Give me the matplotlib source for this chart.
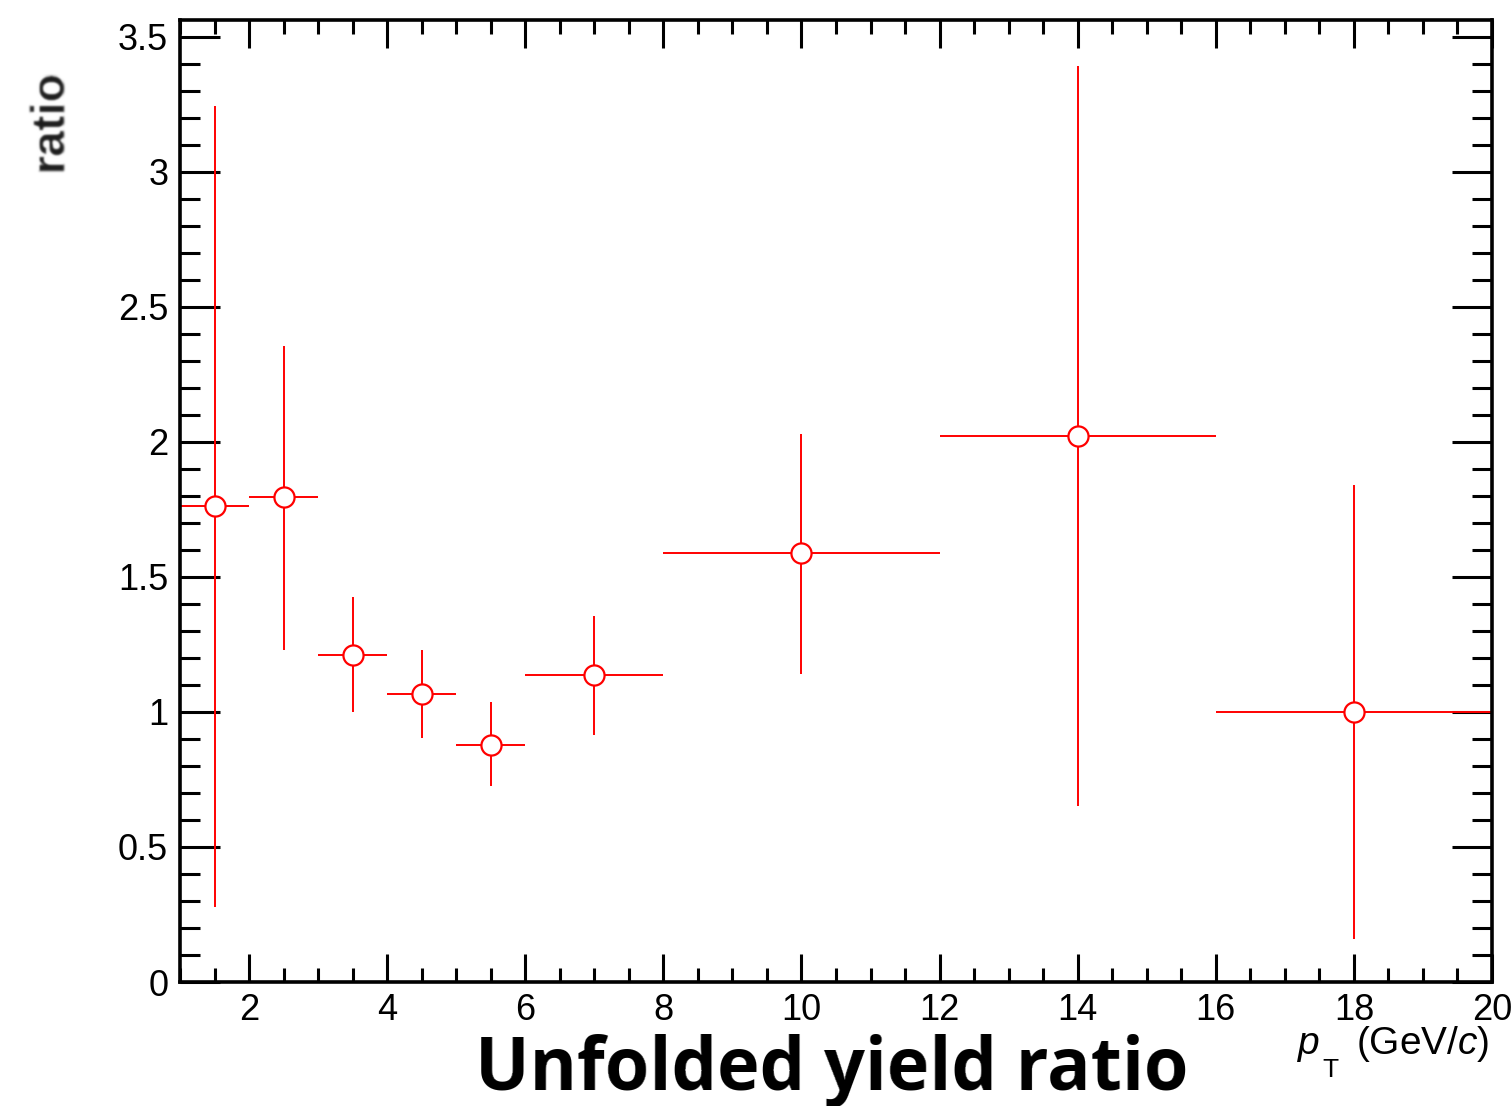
import numpy as np
import matplotlib
matplotlib.use("Agg")
import matplotlib.pyplot as plt
from matplotlib.ticker import MultipleLocator

# pT bins (GeV/c) and unfolded yield ratio with its uncertainties
bin_low = [1, 2, 3, 4, 5, 6, 8, 12, 16]
bin_high = [2, 3, 4, 5, 6, 8, 12, 16, 20]
ratio = [1.762, 1.795, 1.209, 1.068, 0.879, 1.135, 1.588, 2.021, 1.001]
err_up = [3.245, 2.355, 1.424, 1.228, 1.035, 1.354, 2.029, 3.390, 1.840]
err_down = [0.278, 1.228, 0.998, 0.905, 0.727, 0.916, 1.142, 0.653, 0.159]

x_ticks = [2, 4, 6, 8, 10, 12, 14, 16, 18, 20]
y_ticks = [0, 0.5, 1, 1.5, 2, 2.5, 3, 3.5]
y_tick_labels = ["0", "0.5", "1", "1.5", "2", "2.5", "3", "3.5"]

plt.rcParams["font.family"] = ["Liberation Sans", "DejaVu Sans"]
plt.rcParams["mathtext.fontset"] = "custom"
plt.rcParams["mathtext.rm"] = "Liberation Sans"
plt.rcParams["mathtext.it"] = "Liberation Sans:italic"
plt.rcParams["mathtext.bf"] = "Liberation Sans:bold"


def soft_blur(im, dpi):
    """Gaussian softening of a rendered text."""
    pad = 4
    sigma = 1.2
    im = np.pad(im, ((pad, pad), (pad, pad), (0, 0)))
    r = np.arange(-pad, pad + 1)
    k = np.exp(-r ** 2 / (2 * sigma ** 2))
    k /= k.sum()
    out = np.apply_along_axis(lambda m: np.convolve(m, k, mode="same"), 0, im)
    out = np.apply_along_axis(lambda m: np.convolve(m, k, mode="same"), 1, out)
    return out, -pad, -pad


def narrow_to(target_px):
    """Resample a rendered text horizontally to a given ink width."""
    def _filter(im, dpi):
        h, w, _ = im.shape
        s = target_px / w
        nw = int(round(w * s))
        xs = np.clip((np.arange(nw) + 0.5) / s - 0.5, 0, w - 1)
        x0 = np.floor(xs).astype(int)
        x1 = np.minimum(x0 + 1, w - 1)
        fr = (xs - x0)[None, :, None]
        out = im[:, x0] * (1 - fr) + im[:, x1] * fr
        return out, int(round((w - nw) / 2.0)), 0
    return _filter


bin_low = np.array(bin_low, float)
bin_high = np.array(bin_high, float)
ratio = np.array(ratio)
err_up = np.array(err_up)
err_down = np.array(err_down)
centers = 0.5 * (bin_low + bin_high)

W, H = 1512, 1106
fig = plt.figure(figsize=(W / 100, H / 100), dpi=100)
ax = fig.add_axes([180 / W, 124 / H, 1312 / W, 962 / H])

ax.errorbar(centers, ratio,
            xerr=[centers - bin_low, bin_high - centers],
            yerr=[ratio - err_down, err_up - ratio],
            fmt="o", color="#ff0000", ecolor="#ff0000", elinewidth=1.4,
            capsize=0, ms=14.5, mfc="white", mec="#ff0000", mew=1.6)

ax.set_xlim(1, 20)
ax.set_ylim(0, 3.562)

ax.set_xticks(x_ticks)
ax.set_xticklabels([str(v) for v in x_ticks])
ax.set_yticks(y_ticks)
ax.set_yticklabels(y_tick_labels)
ax.xaxis.set_minor_locator(MultipleLocator(0.5))
ax.yaxis.set_minor_locator(MultipleLocator(0.1))

for s in ax.spines.values():
    s.set_linewidth(2.6)

ax.tick_params(axis="both", which="both", direction="in",
               top=True, right=True, width=2.2, labelsize=26, colors="black")
ax.tick_params(axis="x", which="major", length=20, pad=8)
ax.tick_params(axis="x", which="minor", length=10)
ax.tick_params(axis="y", which="major", length=29, pad=8.5)
ax.tick_params(axis="y", which="minor", length=14.5)

# x-axis title: italic p with a lowered roman T, then the unit
fig.text(1298 / W, (H - 1054) / H, "p", ha="left", va="baseline",
         fontsize=28, fontstyle="italic")
fig.text(1322 / W, (H - 1077) / H, "T", ha="left", va="baseline",
         fontsize=19)
fig.text(1489 / W, (H - 1054) / H, r"(GeV/$c$)", ha="right",
         va="baseline", fontsize=28)

ylab = fig.text(50 / W, (H - 69) / H, "ratio", rotation=90,
                ha="center", va="top", fontsize=33.5, fontweight="bold",
                color="#1a1a1a")
ylab.set_agg_filter(soft_blur)

title = fig.text(831 / W, (H - 1090) / H, "Unfolded yield ratio",
                 ha="center", va="baseline", family="Open Sans",
                 fontweight="bold", fontsize=53, color="black")
title.set_agg_filter(narrow_to(705))

fig.savefig("out.png", dpi=100)
